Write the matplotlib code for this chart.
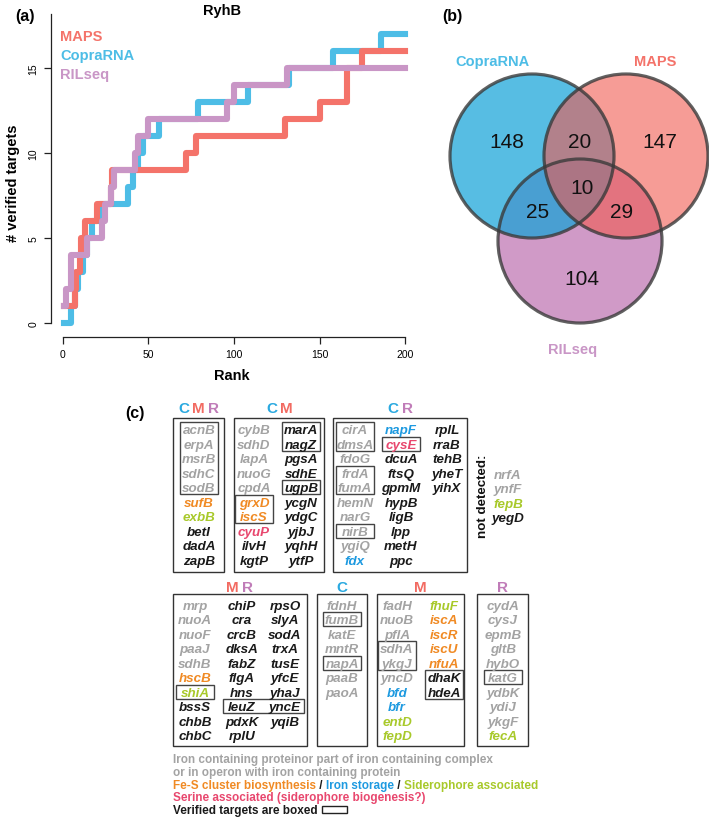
import matplotlib
matplotlib.use("Agg")
import matplotlib.pyplot as plt
from matplotlib.patches import Circle, Rectangle

plt.rcParams['font.family'] = ['Liberation Sans', 'DejaVu Sans']

# (a) cumulative number of verified targets along the rank
rank_maps = [1, 7, 8, 10, 11, 13, 20, 28, 29, 72, 78, 130, 150, 166, 175, 200]
hits_maps = [1, 2, 3, 4, 5, 6, 7, 8, 9, 10, 11, 12, 13, 15, 16, 16]
rank_copra = [1, 5, 7, 9, 12, 14, 17, 21, 38, 41, 44, 47, 56, 79, 108, 132, 158, 186, 200]
hits_copra = [0, 1, 2, 3, 4, 5, 6, 7, 8, 9, 10, 11, 12, 13, 14, 15, 16, 17, 17]
rank_ril = [1, 2, 5, 14, 23, 25, 28, 30, 42, 44, 50, 96, 100, 131, 200]
hits_ril = [1, 2, 4, 5, 6, 7, 8, 9, 10, 11, 12, 13, 14, 15, 15]

# (b) venn counts
venn_counts = {"C": 148, "CM": 20, "M": 147, "CMR": 10, "CR": 25, "MR": 29, "R": 104}

# (c) gene groups, one list per column
cmr_genes = [["acnB", "erpA", "msrB", "sdhC", "sodB", "sufB", "exbB", "betI", "dadA", "zapB"]]
cm_genes = [["cybB", "sdhD", "lapA", "nuoG", "cpdA", "grxD", "iscS", "cyuP", "ilvH", "kgtP"],
            ["marA", "nagZ", "pgsA", "sdhE", "ugpB", "ycgN", "ydgC", "yjbJ", "yqhH", "ytfP"]]
cr_genes = [["cirA", "dmsA", "fdoG", "frdA", "fumA", "hemN", "narG", "nirB", "ygiQ", "fdx"],
            ["napF", "cysE", "dcuA", "ftsQ", "gpmM", "hypB", "ligB", "lpp", "metH", "ppc"],
            ["rplL", "rraB", "tehB", "yheT", "yihX"]]
mr_genes = [["mrp", "nuoA", "nuoF", "paaJ", "sdhB", "hscB", "shiA", "bssS", "chbB", "chbC"],
            ["chiP", "cra", "crcB", "dksA", "fabZ", "flgA", "hns", "leuZ", "pdxK", "rplU"],
            ["rpsO", "slyA", "sodA", "trxA", "tusE", "yfcE", "yhaJ", "yncE", "yqiB"]]
c_genes = [["fdnH", "fumB", "katE", "mntR", "napA", "paaB", "paoA"]]
m_genes = [["fadH", "nuoB", "pflA", "sdhA", "ykgJ", "yncD", "bfd", "bfr", "entD", "fepD"],
           ["fhuF", "iscA", "iscR", "iscU", "nfuA", "dhaK", "hdeA"]]
r_genes = [["cydA", "cysJ", "epmB", "gltB", "hybO", "katG", "ydbK", "ydiJ", "ykgF", "fecA"]]
not_detected = ["nrfA", "ynfF", "fepB", "yegD"]

iron_genes = ["acnB", "erpA", "msrB", "sdhC", "sodB", "cybB", "sdhD", "lapA", "nuoG", "cpdA",
              "cirA", "dmsA", "fdoG", "frdA", "fumA", "hemN", "narG", "nirB", "ygiQ",
              "mrp", "nuoA", "nuoF", "paaJ", "sdhB", "fdnH", "fumB", "katE", "mntR", "napA",
              "paaB", "paoA", "fadH", "nuoB", "pflA", "sdhA", "ykgJ", "yncD", "cydA", "cysJ",
              "epmB", "gltB", "hybO", "katG", "ydbK", "ydiJ", "ykgF", "nrfA", "ynfF"]
fes_genes = ["sufB", "grxD", "iscS", "hscB", "iscA", "iscR", "iscU", "nfuA"]
storage_genes = ["fdx", "napF", "bfd", "bfr"]
sidero_genes = ["exbB", "shiA", "entD", "fepD", "fhuF", "fecA", "fepB"]
serine_genes = ["cyuP", "cysE"]
verified = ["acnB", "erpA", "msrB", "sdhC", "sodB", "marA", "nagZ", "ugpB", "grxD", "iscS",
            "cirA", "dmsA", "frdA", "fumA", "nirB", "cysE", "shiA", "leuZ", "yncE", "fumB",
            "napA", "sdhA", "ykgJ", "dhaK", "hdeA", "katG"]

col_maps, col_copra, col_ril = '#F4736A', '#4DBDE6', '#C996C6'
hdr_col = {"C": '#2AA9E0', "M": '#F26B62', "R": '#C07CB8'}
kind_col = {"iron": '#A3A3A3', "fes": '#F08A24', "storage": '#1E9AE0',
            "sidero": '#A8C92A', "serine": '#E8476E', "other": '#1A1A1A'}


def gene_color(g):
    if g in iron_genes:
        return kind_col["iron"]
    if g in fes_genes:
        return kind_col["fes"]
    if g in storage_genes:
        return kind_col["storage"]
    if g in sidero_genes:
        return kind_col["sidero"]
    if g in serine_genes:
        return kind_col["serine"]
    return kind_col["other"]


W, H = 709, 820
fig = plt.figure(figsize=(W / 100, H / 100), dpi=100)

# ---------------- panel (a)
ax = fig.add_axes([51 / W, 1 - 338 / H, (419 - 51) / W, (338 - 15) / H])
ax.plot(rank_copra, hits_copra, drawstyle='steps-post', color=col_copra, lw=4.4)
ax.plot(rank_maps, hits_maps, drawstyle='steps-post', color=col_maps, lw=4.4)
ax.plot(rank_ril, hits_ril, drawstyle='steps-post', color=col_ril, lw=4.4)
ax.set_xlim(-6.8, 208)
ax.set_ylim(-0.82, 18.2)
ax.set_xticks([0, 50, 100, 150, 200])
ax.set_yticks([0, 5, 10, 15])
for s in ['top', 'right']:
    ax.spines[s].set_visible(False)
ax.spines['left'].set_bounds(0, 18.2)
ax.spines['bottom'].set_bounds(0, 200)
for s in ['left', 'bottom']:
    ax.spines[s].set_linewidth(0.9)
    ax.spines[s].set_color('#222222')
ax.tick_params(direction='out', length=5, width=0.9, color='#222222', labelsize=7.5, pad=4)
ax.tick_params(axis='y', labelrotation=90)
for lab in ax.get_yticklabels():
    lab.set_va('center')
ax.patch.set_alpha(0)
ax.set_xlabel("Rank", fontsize=10.5, fontweight='bold')
ax.xaxis.set_label_coords((232 - 51) / 368, (338 - 376) / 323)
ax.xaxis.label.set_va('center')
ax.set_ylabel("# verified targets", fontsize=10.5, fontweight='bold')
ax.yaxis.set_label_coords((13 - 51) / 368, (338 - 183) / 323)
ax.yaxis.label.set_va('center')

# ---------------- overlay in pixel coordinates
ov = fig.add_axes([0, 0, 1, 1])
ov.set_xlim(0, W)
ov.set_ylim(H, 0)
ov.axis('off')

ov.text(25, 17, "(a)", fontsize=11.5, fontweight='bold', ha='center', va='center')
ov.text(222, 11, "RyhB", fontsize=10.5, fontweight='bold', ha='center', va='center')
for i, (name, c) in enumerate([("MAPS", col_maps), ("CopraRNA", col_copra), ("RILseq", col_ril)]):
    ov.text(60, 37 + 19 * i, name, fontsize=10.5, fontweight='bold', color=c,
            ha='left', va='center')

# ---------------- panel (b) venn
ov.text(452, 17, "(b)", fontsize=11.5, fontweight='bold', ha='center', va='center')
circles = [((580, 242), '#B157A3', 0.6), ((532, 157), '#10A2D8', 0.7), ((626, 157), '#F05A50', 0.6)]
for (cx, cy), fc, a in circles:
    ov.add_patch(Circle((cx, cy), 82, facecolor=fc, alpha=a, edgecolor='none'))
for (cx, cy), fc, a in circles:
    ov.add_patch(Circle((cx, cy), 82, facecolor='none', edgecolor='#3a3a3a', lw=2.3, alpha=0.8))
venn_pos = {"C": (507, 143), "CM": (580, 143), "M": (660, 143), "CMR": (582, 188),
            "CR": (538, 213), "MR": (622, 213), "R": (582, 280)}
for key, n in venn_counts.items():
    ov.text(*venn_pos[key], str(n), fontsize=15, ha='center', va='center', color='#111111')
ov.text(493, 62, "CopraRNA", fontsize=10.5, fontweight='bold', color=col_copra, ha='center', va='center')
ov.text(655, 62, "MAPS", fontsize=10.5, fontweight='bold', color=col_maps, ha='center', va='center')
ov.text(573, 350, "RILseq", fontsize=10.5, fontweight='bold', color=col_ril, ha='center', va='center')

# ---------------- panel (c) gene boxes
ov.text(135, 414, "(c)", fontsize=11.5, fontweight='bold', ha='center', va='center')

STEP = 14.5
top_row = dict(hy=409, top=419, bottom=573, y0=429.5)
bot_row = dict(hy=588, top=595, bottom=747, y0=605)
groups = [
    ("CMR", cmr_genes, (173, 224), [199], top_row),
    ("CM", cm_genes, (234, 324), [254, 301], top_row),
    ("CR", cr_genes, (333, 467), [355, 401, 447], top_row),
    ("MR", mr_genes, (173, 307), [195, 242, 285], bot_row),
    ("C", c_genes, (317, 367), [342], bot_row),
    ("M", m_genes, (377, 464), [397, 444], bot_row),
    ("R", r_genes, (477, 528), [503], bot_row),
]

gene_fs = 9.6
for hdr, cols, (x0, x1), xs, row in groups:
    xc = (x0 + x1) / 2
    n = len(hdr)
    for k, letter in enumerate(hdr):
        ov.text(xc + (k - (n - 1) / 2) * 15, row['hy'], letter, fontsize=11, fontweight='bold',
                color=hdr_col[letter], ha='center', va='center')
    ov.add_patch(Rectangle((x0, row['top']), x1 - x0, row['bottom'] - row['top'],
                           facecolor='none', edgecolor='#333333', lw=1.0))
    runs = []
    for ci, (genes, x) in enumerate(zip(cols, xs)):
        start = None
        for ri, g in enumerate(genes + [None]):
            y = row['y0'] + ri * STEP
            if g is not None:
                ov.text(x, y + 4.6, g, fontsize=gene_fs, fontweight='bold', fontstyle='italic',
                        color=gene_color(g), ha='center', va='baseline')
            if g in verified and start is None:
                start = ri
            elif g not in verified and start is not None:
                runs.append([ci, ci, start, ri - 1])
                start = None
    # merge boxes of neighbouring columns that cover the same rows
    merged = []
    for r in runs:
        if merged and merged[-1][1] == r[0] - 1 and merged[-1][2:] == r[2:]:
            merged[-1][1] = r[1]
        else:
            merged.append(r)
    for c0, c1, r0, r1 in merged:
        bx0 = xs[c0] - 19
        bx1 = xs[c1] + 19
        by0 = row['y0'] + r0 * STEP - 6.5
        by1 = row['y0'] + r1 * STEP + 7.5
        ov.add_patch(Rectangle((bx0, by0), bx1 - bx0, by1 - by0, facecolor='none',
                               edgecolor='#444444', lw=1.0))

ov.text(483, 496, "not detected:", rotation=90, fontsize=9.6, fontweight='bold',
        ha='center', va='center', color='#111111')
for i, g in enumerate(not_detected):
    ov.text(508, 474 + i * STEP + 4.6, g, fontsize=gene_fs, fontweight='bold', fontstyle='italic',
            color=gene_color(g), ha='center', va='baseline')

# ---------------- colour key
key_fs = 8.5
ov.text(173, 763.5, "Iron containing proteinor part of iron containing complex", fontsize=key_fs,
        fontweight='bold', color=kind_col["iron"], ha='left', va='baseline')
ov.text(173, 776, "or in operon with iron containing protein", fontsize=key_fs,
        fontweight='bold', color=kind_col["iron"], ha='left', va='baseline')
parts = [("Fe-S cluster biosynthesis", kind_col["fes"]), (" / ", kind_col["other"]),
         ("Iron storage", kind_col["storage"]), (" / ", kind_col["other"]),
         ("Siderophore associated", kind_col["sidero"])]
t = ov.text(173, 789, parts[0][0], fontsize=key_fs, fontweight='bold', color=parts[0][1],
            ha='left', va='baseline')
for txt, c in parts[1:]:
    t = ov.annotate(txt, xy=(1, 0), xycoords=t, fontsize=key_fs, fontweight='bold', color=c,
                    ha='left', va='bottom')
ov.text(173, 801.5, "Serine associated (siderophore biogenesis?)", fontsize=key_fs,
        fontweight='bold', color=kind_col["serine"], ha='left', va='baseline')
ov.text(173, 814.5, "Verified targets are boxed", fontsize=key_fs, fontweight='bold',
        color=kind_col["other"], ha='left', va='baseline')
ov.add_patch(Rectangle((322, 807), 25, 7, facecolor='none', edgecolor='#222222', lw=1.0))

fig.savefig("out.png", dpi=100)
